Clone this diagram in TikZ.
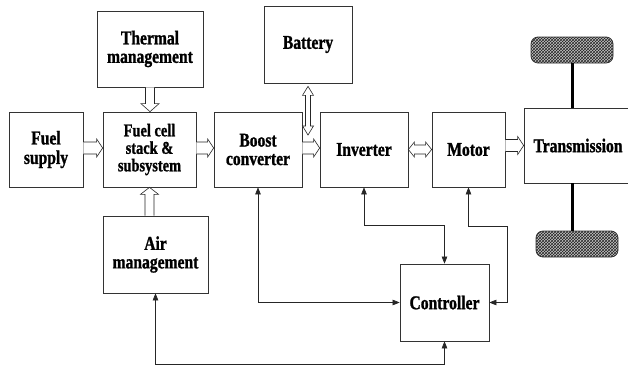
\documentclass[tikz,border=0pt]{standalone}
\usepackage{fontspec}
\setmainfont[FakeStretch=0.8, BoldFeatures={FakeBold=1.2}]{Liberation Serif}
\usetikzlibrary{calc,arrows.meta,patterns}
\begin{document}
\begin{tikzpicture}[x=1pt,y=-1pt,
  box/.style={draw=black!80, line width=0.7pt, align=center, inner sep=0pt,
    font=\bfseries\fontsize{19.5}{18.5}\selectfont},
  sw/.store in=\sw, hw/.store in=\hw, hl/.store in=\hl,
  blk/.style={draw=black!85, line width=0.6pt, fill=white},
  harr/.style={blk, to path={let \p1=(\tikztostart), \p2=(\tikztotarget) in
    (\x1,\y1+\sw) -- (\x2-\hl,\y1+\sw) -- (\x2-\hl,\y1+\hw) -- (\x2,\y1)
    -- (\x2-\hl,\y1-\hw) -- (\x2-\hl,\y1-\sw) -- (\x1,\y1-\sw)}},
  hdarr/.style={blk, to path={let \p1=(\tikztostart), \p2=(\tikztotarget) in
    (\x1,\y1) -- (\x1+\hl,\y1+\hw) -- (\x1+\hl,\y1+\sw) -- (\x2-\hl,\y1+\sw)
    -- (\x2-\hl,\y1+\hw) -- (\x2,\y1) -- (\x2-\hl,\y1-\hw) -- (\x2-\hl,\y1-\sw)
    -- (\x1+\hl,\y1-\sw) -- (\x1+\hl,\y1-\hw) -- cycle}},
  vdown/.style={blk, to path={let \p1=(\tikztostart), \p2=(\tikztotarget) in
    (\x1-\sw,\y1) -- (\x1-\sw,\y2+\hl) -- (\x1-\hw,\y2+\hl) -- (\x1,\y2)
    -- (\x1+\hw,\y2+\hl) -- (\x1+\sw,\y2+\hl) -- (\x1+\sw,\y1)}},
  vup/.style={blk, to path={let \p1=(\tikztostart), \p2=(\tikztotarget) in
    (\x1-\sw,\y1) -- (\x1-\sw,\y2-\hl) -- (\x1-\hw,\y2-\hl) -- (\x1,\y2)
    -- (\x1+\hw,\y2-\hl) -- (\x1+\sw,\y2-\hl) -- (\x1+\sw,\y1)}},
  vdarr/.style={blk, to path={let \p1=(\tikztostart), \p2=(\tikztotarget) in
    (\x1,\y1) -- (\x1-\hw,\y1-\hl) -- (\x1-\sw,\y1-\hl) -- (\x1-\sw,\y2+\hl)
    -- (\x1-\hw,\y2+\hl) -- (\x1,\y2) -- (\x1+\hw,\y2+\hl) -- (\x1+\sw,\y2+\hl)
    -- (\x1+\sw,\y1-\hl) -- (\x1+\hw,\y1-\hl) -- cycle}},
  sig/.style={line width=0.6pt, draw=black!85,
    {Triangle[length=7pt,width=5.5pt]}-{Triangle[length=7pt,width=5.5pt]}},
  wheel/.style={draw=black!80, line width=0.8pt, rounded corners=7pt,
    minimum width=82pt, minimum height=26pt, inner sep=0pt,
    preaction={fill=gray!45}, pattern=crosshatch, pattern color=black!85},
  axle/.style={line width=3pt}
]
\useasboundingbox (0,0) rectangle (628,370);
\clip (0,0) rectangle (628,370);

% boxes
\node[box, minimum width=74pt, minimum height=75pt] (fuel) at (46,149.5) {Fuel\\[1pt]supply};
\node[box, minimum width=93pt, minimum height=75pt, font=\bfseries\fontsize{18}{17.5}\selectfont] (fc) at (149.5,149.5) {Fuel cell\\stack \&\\subsystem};
\node[box, minimum width=106pt, minimum height=76pt] (therm) at (150,49) {Thermal\\management};
\node[box, minimum width=88pt, minimum height=75pt] (boost) at (258,149.5) {Boost\\converter};
\node[box, minimum width=88pt, minimum height=77pt] (batt) at (308,44.5) {Battery};
\node[box, minimum width=88pt, minimum height=75pt] (inv) at (364,149.5) {Inverter};
\node[box, minimum width=73pt, minimum height=75pt] (motor) at (468.5,149.5) {Motor};
\node[box, minimum width=108pt, minimum height=75pt] (trans) at (578,145.5) {Transmission};
\node[box, minimum width=105pt, minimum height=77pt] (air) at (155.5,254.5) {Air\\management};
\node[box, minimum width=89pt, minimum height=77pt] (ctrl) at (444.5,302.5) {Controller};

% wheels
\node[wheel] (w1) at (572,50) {};
\node[wheel] (w2) at (577,244) {};
\draw[axle] (w1.south) -- (w1.south |- trans.north);
\draw[axle] (trans.south -| w1.south) -- (w1.south |- w2.north);

% hollow block arrows
\draw[harr, sw=6, hw=9, hl=6] ($(fuel.east)+(0,-1.5)$) to ($(fc.west)+(0,-1.5)$);
\draw[harr, sw=6, hw=9, hl=6] ($(fc.east)+(0,-1.5)$) to ($(boost.west)+(0,-1.5)$);
\draw[harr, sw=6, hw=9, hl=6] ($(boost.east)+(0,-1.5)$) to ($(inv.west)+(0,-1.5)$);
\draw[hdarr, sw=4.5, hw=7.5, hl=6] (inv.east) to (motor.west);
\draw[harr, sw=6, hw=9, hl=6] (motor.east |- trans.west) to (trans.west);
\draw[vdown, sw=4.5, hw=9, hl=8] (therm.south) to (fc.north);
\draw[vup, sw=4.5, hw=9, hl=7] (fc.south |- air.north) to (fc.south);
\coordinate (bj) at (308,135);
\draw[vdarr, sw=2.5, hw=5.5, hl=9] ($(batt.south)+(0,3)$) to (bj);

% control lines
\draw[sig] (boost.south) |- (ctrl.west);
\draw[sig] (inv.south) |- ($(ctrl.north)+(0,-38)$) -- (ctrl.north);
\coordinate (mr) at (507,226);
\draw[sig] (motor.south) |- (mr) |- (ctrl.east);
\draw[sig] (air.south) |- ($(ctrl.south)+(0,23)$) -- (ctrl.south);
\end{tikzpicture}
\end{document}
